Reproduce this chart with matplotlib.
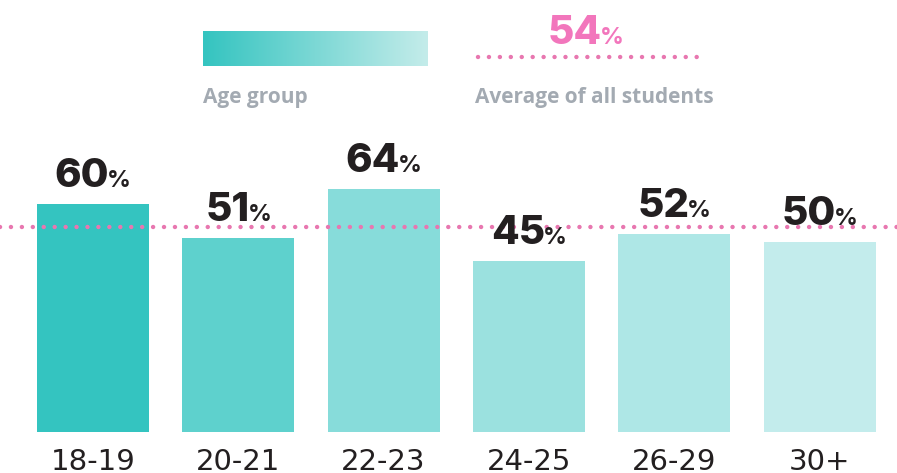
import matplotlib.pyplot as plt
import numpy as np
from matplotlib.colors import LinearSegmentedColormap
from matplotlib.lines import Line2D
from matplotlib.transforms import offset_copy

# data
groups = ['18-19', '20-21', '22-23', '24-25', '26-29', '30+']
values = [60, 51, 64, 45, 52, 50]
average = 54
bar_colors = ['#34c4c0', '#5ed1cd', '#87dcda', '#9be1df', '#aee7e6', '#c3ecec']

pink = '#e877b0'
pink_txt = '#f276bc'
grey = '#a3aab2'
dark = '#231f20'
num_font = ['Inter', 'DejaVu Sans']
tick_font = ['Liberation Sans Narrow', 'DejaVu Sans']
leg_font = ['Open Sans', 'DejaVu Sans']

W, H = 897, 473
px_per = 3.8       # pixels per percent
base = 432         # pixel row of bar bottoms
step = 145.3       # pixels between bar centres
x0 = 93            # pixel column of first bar centre


def fx(x):
    return x / W


def fy(y):
    return 1 - y / H


fig = plt.figure(figsize=(W / 100, H / 100), dpi=100)
ax = fig.add_axes([0, fy(base), 1, base / H])
ax.set_xlim(-x0 / step, (W - x0) / step)
ax.set_ylim(0, base / px_per)
ax.axis('off')

x = np.arange(len(groups))
ax.bar(x, values, width=112 / step, color=bar_colors, zorder=1)

dots = (0, (0.01, 2.45))
ax.axhline(average, color=pink, lw=3.2, linestyle=dots,
           dash_capstyle='round', zorder=2)

for i, g in enumerate(groups):
    ax.text(i, (base - 462) / px_per, g, ha='center', va='center',
            fontsize=21, color=dark, family=tick_font, clip_on=False)

pairs = []
for i, v in enumerate(values):
    y = v + 17 / px_per
    t1 = ax.text(i, y, str(v), fontsize=29, fontweight='heavy',
                 color=dark, family=num_font, ha='left', va='baseline', zorder=3)
    t2 = ax.text(i, y, '%', fontsize=17, fontweight='bold',
                 color=dark, family=num_font, ha='left', va='baseline', zorder=3)
    pairs.append((t1, t2, ax.transData))

# legend: gradient box
lax = fig.add_axes([fx(203), fy(66), fx(427 - 203), (66 - 31) / H])
cmap = LinearSegmentedColormap.from_list('g', ['#34c4c0', '#c4ecea'])
lax.imshow(np.linspace(0, 1, 256)[None, :], aspect='auto', cmap=cmap)
lax.axis('off')
fig.text(fx(203), fy(103), 'Age group', fontsize=15, fontweight='bold',
         color=grey, family=leg_font, ha='left', va='baseline')

# legend: average line
fig.add_artist(Line2D([fx(478), fx(699)], [fy(57), fy(57)], color=pink, lw=3.2,
                      linestyle=dots, dash_capstyle='round',
                      transform=fig.transFigure))
fig.text(fx(475), fy(103), 'Average of all students', fontsize=15,
         fontweight='bold', color=grey, family=leg_font, ha='left', va='baseline')
t1 = fig.text(fx(586), fy(44), str(average), fontsize=29, fontweight='heavy',
              color=pink_txt, family=num_font, ha='left', va='baseline')
t2 = fig.text(fx(586), fy(44), '%', fontsize=17, fontweight='bold',
              color=pink_txt, family=num_font, ha='left', va='baseline')
pairs.append((t1, t2, fig.transFigure))

# centre each "number + %" pair
fig.canvas.draw()
r = fig.canvas.get_renderer()
for t1, t2, tr in pairs:
    w1 = t1.get_window_extent(r).width
    w2 = t2.get_window_extent(r).width
    gap = -2
    total = w1 + gap + w2
    t1.set_transform(offset_copy(tr, fig=fig, x=-total / 2, units='dots'))
    t2.set_transform(offset_copy(tr, fig=fig, x=-total / 2 + w1 + gap, units='dots'))

fig.savefig('out.png', dpi=100, facecolor='white')
